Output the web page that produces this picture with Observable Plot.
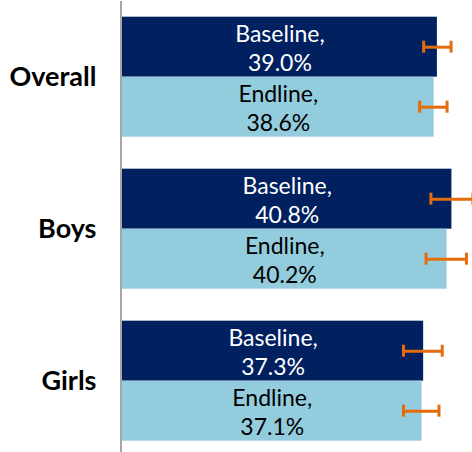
<!DOCTYPE html>
<html><head><meta charset="utf-8">
<script src="https://cdn.jsdelivr.net/npm/d3@7"></script>
<script src="https://cdn.jsdelivr.net/npm/@observablehq/plot@0.6"></script>
<style>html,body{margin:0;padding:0;background:#fff;} #chart svg{display:block}</style>
</head><body><div id="chart"></div>
<script>
const groups = ["Overall", "Boys", "Girls"];
const series = ["Baseline", "Endline"];
const baseline = [39.0, 40.8, 37.3];
const endline = [38.6, 40.2, 37.1];
const baselineLow = [37.3, 38.2, 34.8];
const baselineHigh = [40.7, 43.4, 39.6];
const endlineLow = [36.8, 37.6, 34.8];
const endlineHigh = [40.2, 42.6, 39.2];

const data = groups.flatMap((g, i) => [
  {group: g, series: "Baseline", value: baseline[i], lo: baselineLow[i], hi: baselineHigh[i]},
  {group: g, series: "Endline", value: endline[i], lo: endlineLow[i], hi: endlineHigh[i]}
]);

const orange = "#E46C0A";
const label = d => `${d.series},\n${d.value.toFixed(1)}%`;

const chart = Plot.plot({
  width: 472,
  height: 452,
  marginLeft: 122,
  marginRight: 0,
  marginTop: 0,
  marginBottom: 0,
  style: {fontFamily: "Lato, sans-serif", background: "white"},
  x: {domain: [0, 43.35], axis: null},
  y: {domain: series, padding: 0, axis: null},
  fy: {domain: groups, paddingInner: 0.2105, paddingOuter: 0.0921, align: 0.596, round: false},
  color: {domain: series, range: ["#002060", "#93CDDD"]},
  marks: [
    Plot.barX(data, {fy: "group", y: "series", x: "value", fill: "series"}),
    Plot.text(data.filter(d => d.series === "Baseline"), {fy: "group", y: "series", x: d => d.value / 2, text: label, fill: "white", fontSize: 23, lineHeight: 1.25}),
    Plot.text(data.filter(d => d.series === "Endline"), {fy: "group", y: "series", x: d => d.value / 2, text: label, fill: "black", fontSize: 23, lineHeight: 1.25}),
    Plot.ruleY(data, {fy: "group", y: "series", x1: "lo", x2: "hi", stroke: orange, strokeWidth: 3}),
    Plot.tickX(data, {fy: "group", y: "series", x: "lo", stroke: orange, strokeWidth: 3, insetTop: 24, insetBottom: 24}),
    Plot.tickX(data, {fy: "group", y: "series", x: "hi", stroke: orange, strokeWidth: 3, insetTop: 24, insetBottom: 24}),
    Plot.axisFy({anchor: "left", tickSize: 0, tickPadding: 26, fontSize: 27, fontWeight: "bold", label: null})
  ]
});

// vertical category axis line at x = 0, spanning the full height
const x0 = chart.scale("x").apply(0);
d3.select(chart).append("line")
  .attr("x1", x0 - 1).attr("x2", x0 - 1)
  .attr("y1", 1).attr("y2", 452)
  .attr("stroke", "#A6A6A6").attr("stroke-width", 2);

document.getElementById("chart").appendChild(chart);
</script>
</body></html>
